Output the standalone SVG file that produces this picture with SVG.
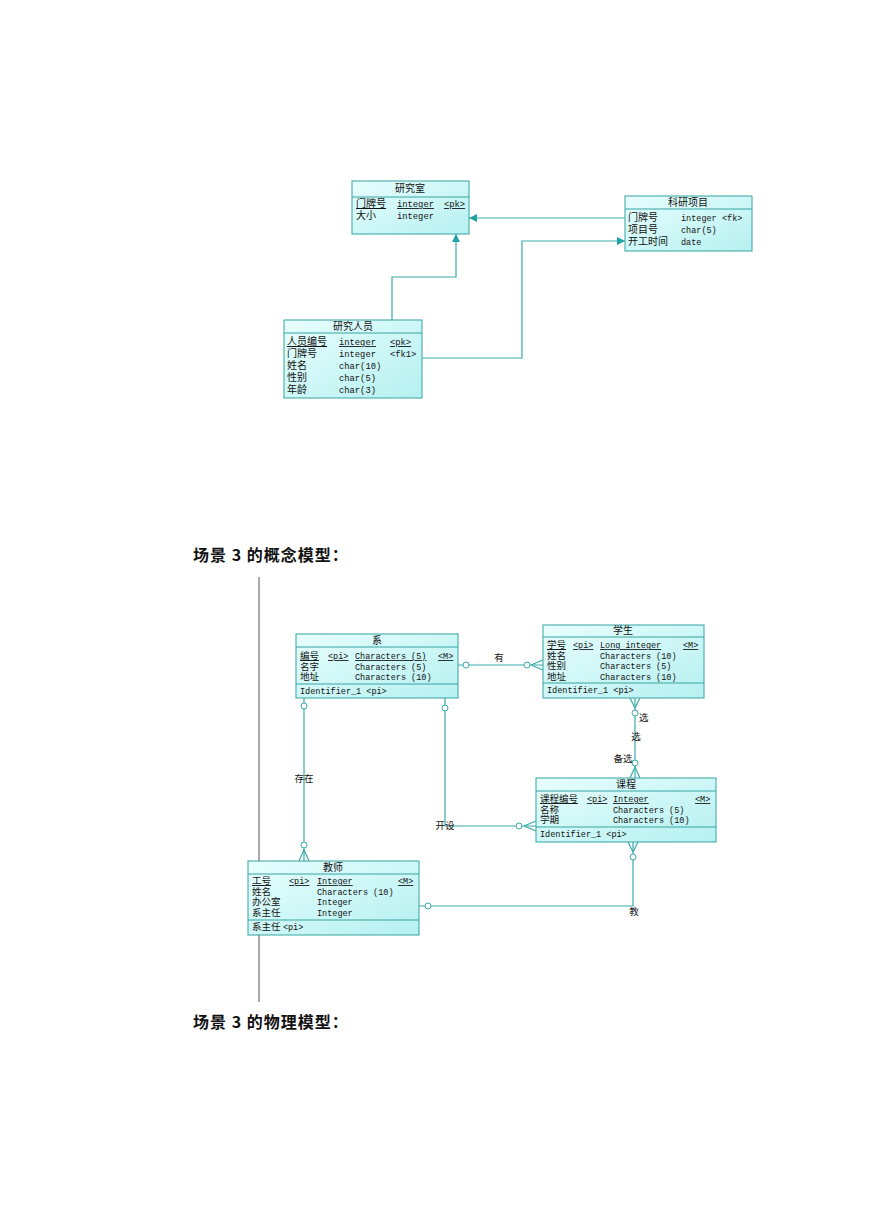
<svg xmlns="http://www.w3.org/2000/svg" width="869" height="1228" viewBox="0 0 869 1228">
<style>
.box{fill:url(#g);stroke:#34a4a4;stroke-width:1}
.sep{stroke:#34a4a4;stroke-width:1}
.ln{stroke:#3aacac;stroke-width:1.2;fill:none}
.cir{fill:#fff;stroke:#3aacac;stroke-width:1}
text{font-family:"Liberation Serif","Noto Sans CJK SC",serif;font-size:10px;fill:#111}
.c{font-size:9.5px}
.t{text-anchor:middle}
.m{font-family:"Liberation Mono","Noto Sans CJK SC",monospace;font-size:8.5px}
.m9{font-family:"Liberation Mono","Noto Sans CJK SC",monospace;font-size:8.8px}
.u{text-decoration:underline}
.h{font-family:"Noto Sans CJK SC",sans-serif;font-size:16px;font-weight:bold;letter-spacing:1px}
.lb{font-family:"Noto Sans CJK SC",sans-serif;font-size:9.5px}
</style>
<defs>
<linearGradient id="g" x1="0" y1="0" x2="1" y2="1">
<stop offset="0" stop-color="#e8fefe"/>
<stop offset="1" stop-color="#b6f0f0"/>
</linearGradient>
<marker id="ar" viewBox="0 0 10 10" refX="10" refY="5" markerWidth="10" markerHeight="8" markerUnits="userSpaceOnUse" orient="auto">
<path d="M0,0 L10,5 L0,10 z" fill="#1fa3a3"/>
</marker>
</defs>

<g id="connectors">
<path class="ln" d="M625,218 L469,218" marker-end="url(#ar)"/>
<path class="ln" d="M392,320 L392,277 L456,277 L456,234" marker-end="url(#ar)"/>
<path class="ln" d="M422,358 L522,358 L522,241 L625,241" marker-end="url(#ar)"/>
<line class="ln" x1="259" y1="577" x2="259" y2="1002" style="stroke:#555;stroke-width:1"/>
<path class="ln" d="M458,665 L543,665"/>
<path class="ln" d="M531,665 L543,660 M531,665 L543,670"/>
<circle class="cir" cx="466" cy="665" r="3"/>
<circle class="cir" cx="527" cy="665" r="3"/>
<text class="lb t" x="499" y="661">有</text>
<path class="ln" d="M635,698 L635,778"/>
<path class="ln" d="M635,708 L630,698 M635,708 L640,698"/>
<path class="ln" d="M635,767 L630,778 M635,767 L640,778"/>
<circle class="cir" cx="635" cy="713" r="3"/>
<circle class="cir" cx="635" cy="763" r="3"/>
<text class="lb" x="639" y="721">选</text>
<text class="lb t" x="636" y="740">选</text>
<text class="lb t" x="623" y="762">备选</text>
<path class="ln" d="M304,698 L304,861"/>
<path class="ln" d="M304,850 L299,861 M304,850 L309,861"/>
<circle class="cir" cx="304" cy="706" r="3"/>
<circle class="cir" cx="304" cy="845" r="3"/>
<text class="lb t" x="304" y="782">存在</text>
<path class="ln" d="M445,698 L445,826 L536,826"/>
<path class="ln" d="M524,826 L536,821 M524,826 L536,831"/>
<circle class="cir" cx="445" cy="708" r="3"/>
<circle class="cir" cx="519" cy="826" r="3"/>
<text class="lb t" x="445" y="829">开设</text>
<path class="ln" d="M419,906 L633,906 L633,842"/>
<path class="ln" d="M633,852 L628,842 M633,852 L638,842"/>
<circle class="cir" cx="428" cy="906" r="3"/>
<circle class="cir" cx="633" cy="857" r="3"/>
<text class="lb t" x="634" y="915">教</text>
</g>

<g id="yanjiushi">
<rect class="box" x="352" y="181" width="117" height="53"/>
<line class="sep" x1="352" y1="197" x2="469" y2="197"/>
<text class="t" x="410" y="192">研究室</text>
<text class="u" x="356" y="207">门牌号</text>
<text class="m9 u" x="397" y="207">integer</text>
<text class="m9 u" x="444" y="207">&lt;pk&gt;</text>
<text x="356" y="219">大小</text>
<text class="m9" x="397" y="219">integer</text>
</g>

<g id="keyanxiangmu">
<rect class="box" x="625" y="196" width="127" height="55"/>
<line class="sep" x1="625" y1="209" x2="752" y2="209"/>
<text class="t" x="688" y="206">科研项目</text>
<text x="628" y="221">门牌号</text>
<text class="m" x="681" y="221">integer</text>
<text class="m" x="722" y="221">&lt;fk&gt;</text>
<text x="628" y="233">项目号</text>
<text class="m" x="681" y="233">char(5)</text>
<text x="628" y="245">开工时间</text>
<text class="m" x="681" y="245">date</text>
</g>

<g id="yanjiurenyuan">
<rect class="box" x="284" y="320" width="138" height="78"/>
<line class="sep" x1="284" y1="333" x2="422" y2="333"/>
<text class="t" x="353" y="330">研究人员</text>
<text class="u" x="287" y="345">人员编号</text>
<text class="m9 u" x="339" y="345">integer</text>
<text class="m9 u" x="390" y="345">&lt;pk&gt;</text>
<text x="287" y="357">门牌号</text>
<text class="m9" x="339" y="357">integer</text>
<text class="m9" x="390" y="357">&lt;fk1&gt;</text>
<text x="287" y="369">姓名</text>
<text class="m9" x="339" y="369">char(10)</text>
<text x="287" y="381">性别</text>
<text class="m9" x="339" y="381">char(5)</text>
<text x="287" y="393">年龄</text>
<text class="m9" x="339" y="393">char(3)</text>
</g>

<text class="h" x="193" y="561">场景 3 的概念模型：</text>
<text class="h" x="193" y="1028">场景 3 的物理模型：</text>

<g id="xi">
<rect class="box" x="296" y="634" width="162" height="64"/>
<line class="sep" x1="296" y1="647" x2="458" y2="647"/>
<line class="sep" x1="296" y1="684" x2="458" y2="684"/>
<text class="t" x="377" y="644">系</text>
<text class="c u" x="300" y="659">编号</text>
<text class="m u" x="328" y="659">&lt;pi&gt;</text>
<text class="m u" x="355" y="659">Characters (5)</text>
<text class="m u" x="438" y="659">&lt;M&gt;</text>
<text class="c" x="300" y="669.5">名字</text>
<text class="m" x="355" y="669.5">Characters (5)</text>
<text class="c" x="300" y="680">地址</text>
<text class="m" x="355" y="680">Characters (10)</text>
<text class="m" x="300" y="694">Identifier_1  &lt;pi&gt;</text>
</g>

<g id="xuesheng">
<rect class="box" x="543" y="625" width="161" height="73"/>
<line class="sep" x1="543" y1="637" x2="704" y2="637"/>
<line class="sep" x1="543" y1="683" x2="704" y2="683"/>
<text class="t" x="623" y="634">学生</text>
<text class="c u" x="547" y="648">学号</text>
<text class="m u" x="573" y="648">&lt;pi&gt;</text>
<text class="m u" x="600" y="648">Long integer</text>
<text class="m u" x="683" y="648">&lt;M&gt;</text>
<text class="c" x="547" y="658.5">姓名</text>
<text class="m" x="600" y="658.5">Characters (10)</text>
<text class="c" x="547" y="669">性别</text>
<text class="m" x="600" y="669">Characters (5)</text>
<text class="c" x="547" y="679.5">地址</text>
<text class="m" x="600" y="679.5">Characters (10)</text>
<text class="m" x="547" y="693">Identifier_1  &lt;pi&gt;</text>
</g>

<g id="kecheng">
<rect class="box" x="536" y="778" width="180" height="64"/>
<line class="sep" x1="536" y1="791" x2="716" y2="791"/>
<line class="sep" x1="536" y1="827" x2="716" y2="827"/>
<text class="t" x="626" y="788">课程</text>
<text class="c u" x="540" y="802">课程编号</text>
<text class="m u" x="587" y="802">&lt;pi&gt;</text>
<text class="m u" x="613" y="802">Integer</text>
<text class="m u" x="695" y="802">&lt;M&gt;</text>
<text class="c" x="540" y="812.5">名称</text>
<text class="m" x="613" y="812.5">Characters (5)</text>
<text class="c" x="540" y="823">学期</text>
<text class="m" x="613" y="823">Characters (10)</text>
<text class="m" x="540" y="837">Identifier_1  &lt;pi&gt;</text>
</g>

<g id="jiaoshi">
<rect class="box" x="248" y="861" width="171" height="74"/>
<line class="sep" x1="248" y1="874" x2="419" y2="874"/>
<line class="sep" x1="248" y1="920" x2="419" y2="920"/>
<text class="t" x="333" y="871">教师</text>
<text class="c u" x="252" y="884">工号</text>
<text class="m u" x="289" y="884">&lt;pi&gt;</text>
<text class="m u" x="317" y="884">Integer</text>
<text class="m u" x="398" y="884">&lt;M&gt;</text>
<text class="c" x="252" y="894.5">姓名</text>
<text class="m" x="317" y="894.5">Characters (10)</text>
<text class="c" x="252" y="905">办公室</text>
<text class="m" x="317" y="905">Integer</text>
<text class="c" x="252" y="915.5">系主任</text>
<text class="m" x="317" y="915.5">Integer</text>
<text class="c" x="252" y="930">系主任  <tspan class="m">&lt;pi&gt;</tspan></text>
</g>
</svg>
